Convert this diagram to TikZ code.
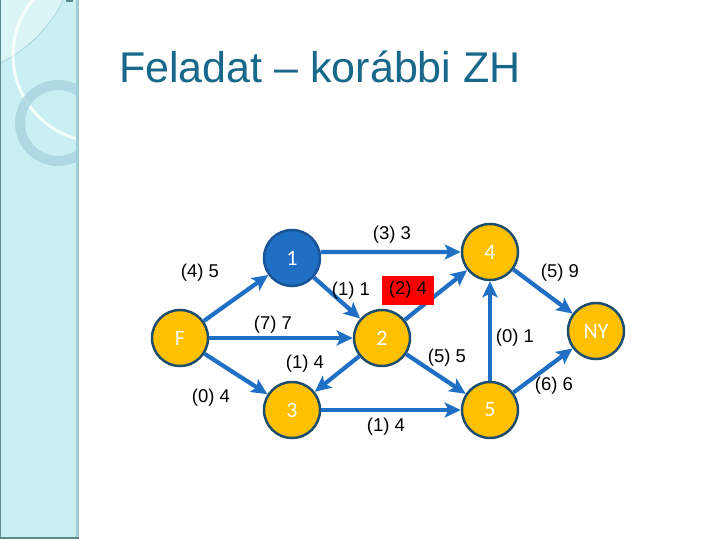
\documentclass[tikz,border=0pt]{standalone}
\usepackage{fontspec}
\setmainfont{Liberation Sans}
\newfontfamily\nodefont{Carlito}
\usetikzlibrary{arrows.meta}
\definecolor{titleblue}{RGB}{23,104,138}
\definecolor{edgeblue}{RGB}{31,111,196}
\definecolor{nodeorange}{RGB}{255,192,0}
\definecolor{nodeborder}{RGB}{30,78,110}
\definecolor{blueborder}{RGB}{25,85,150}
\definecolor{stripfill}{RGB}{200,240,242}
\definecolor{stripedge}{RGB}{160,205,212}
\definecolor{stripdark}{RGB}{90,138,142}
\definecolor{ringcol}{RGB}{168,212,224}
\tikzset{
  vert/.style={circle, draw=nodeborder, line width=2.5pt, fill=nodeorange,
    minimum size=56pt, inner sep=0pt, text=white, font=\nodefont\fontsize{22}{22}\selectfont},
  bluevert/.style={vert, fill=edgeblue, draw=blueborder},
  edge/.style={draw=edgeblue, line width=4.2pt,
    -{Stealth[length=16pt,width=15pt,inset=3.5pt]}},
  lab/.style={font=\fontsize{18.5}{18.5}\selectfont, text=black, inner sep=0pt},
  redlab/.style={lab, fill=red, minimum width=52pt, minimum height=29pt}
}
\begin{document}
\begin{tikzpicture}[x=1pt,y=-1pt]
\useasboundingbox (0,0) rectangle (720,540);
\fill[white] (0,0) rectangle (720,540);
% left strip
\begin{scope}
\clip (0,0) rectangle (79,538);
\fill[stripfill] (0,0) rectangle (79,538);
\fill[white, opacity=0.35] (-60,-60) circle (137);
\draw[stripedge, line width=0.6pt] (-60,-60) circle (137);
\draw[white, opacity=0.8, line width=3pt] (100,55) circle (87);
\draw[ringcol, opacity=0.8, line width=10pt] (58,123) circle (38);
\end{scope}
\fill[stripedge] (76,0) rectangle (79,538);
\fill[stripdark] (0,0) rectangle (1.2,538);
\fill[stripdark] (0,537) rectangle (79,539);
\fill[stripdark] (66,0) rectangle (73,2);
% title
\node[anchor=base west, inner sep=0pt, text=titleblue,
  font=\fontsize{43}{43}\selectfont] (title) at (119,83) {Feladat – korábbi ZH};
% vertices
\node[vert] (F) at (180,338) {F};
\node[bluevert] (n1) at (292,258) {1};
\node[vert] (n2) at (382,338) {2};
\node[vert] (n3) at (292,410) {3};
\node[vert] (n4) at (490,252) {4};
\node[vert] (n5) at (490,410) {5};
\node[vert] (NY) at (596,331) {NY};
% edges
\draw[edge] (F) -- (n1);
\draw[edge] (F) -- (n2);
\draw[edge] (F) -- (n3);
\draw[edge] (n1.12) -- (n4.west);
\draw[edge] (n1) -- (n2);
\draw[edge] (n2) -- (n4);
\draw[edge] (n2) -- (n3);
\draw[edge] (n2) -- (n5);
\draw[edge] (n3) -- (n5);
\draw[edge] (n5) -- (n4);
\draw[edge] (n4) -- (NY);
\draw[edge] (n5) -- (NY);
% labels
\node[lab] (l13) at (392,235) {(3) 3};
\node[lab] (lF1) at (200,273) {(4) 5};
\node[lab] (l12) at (351,291) {(1) 1};
\node[redlab] (l24) at (408,290) {(2) 4};
\node[lab] (lF2) at (273,325) {(7) 7};
\node[lab] (l23) at (305,364) {(1) 4};
\node[lab] (lF3) at (211,398) {(0) 4};
\node[lab] (l35) at (386,427) {(1) 4};
\node[lab] (l25) at (447,358) {(5) 5};
\node[lab] (l54) at (515,338) {(0) 1};
\node[lab] (l4N) at (560,273) {(5) 9};
\node[lab] (l5N) at (554,386) {(6) 6};
\end{tikzpicture}
\end{document}
